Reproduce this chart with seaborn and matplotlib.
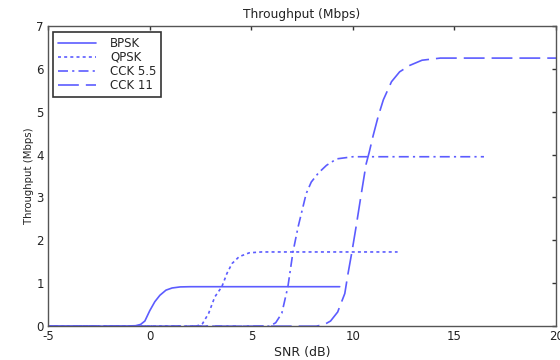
import numpy as np
import pandas as pd
import matplotlib
matplotlib.use("Agg")
import matplotlib.pyplot as plt
import seaborn as sns

# values
bpsk_snr = [-5, -1.5, -0.7, -0.45, -0.24, 0.0, 0.25, 0.5, 0.8, 1.1, 1.5, 2.0, 9.35]
bpsk_tp = [0, 0, 0.01, 0.04, 0.12, 0.36, 0.57, 0.72, 0.84, 0.89, 0.915, 0.92, 0.92]

qpsk_snr = [-5, 2.3, 2.6, 2.9, 3.2, 3.55, 3.8, 4.05, 4.4, 4.9, 5.5, 12.2]
qpsk_tp = [0, 0, 0.06, 0.3, 0.68, 0.92, 1.23, 1.46, 1.62, 1.71, 1.73, 1.73]

cck55_snr = [-5, 5.9, 6.2, 6.5, 6.8, 7.05, 7.3, 7.5, 7.7, 7.95, 8.3, 8.7, 9.2, 10.0, 16.45]
cck55_tp = [0, 0, 0.08, 0.3, 0.92, 1.73, 2.31, 2.7, 3.09, 3.36, 3.57, 3.75, 3.9, 3.95, 3.95]

cck11_snr = [-5, 8.2, 8.6, 8.9, 9.25, 9.6, 9.75, 9.95, 10.15, 10.4, 10.65, 10.8,
             11.0, 11.25, 11.5, 11.9, 12.3, 12.8, 13.4, 14.3, 20]
cck11_tp = [0, 0, 0.04, 0.12, 0.33, 0.76, 1.2, 1.73, 2.3, 3.05, 3.78, 4.05,
            4.45, 4.9, 5.28, 5.7, 5.93, 6.08, 6.2, 6.25, 6.25]

schemes = ["BPSK", "QPSK", "CCK 5.5", "CCK 11"]

df = pd.concat([
    pd.DataFrame({"snr": bpsk_snr, "tp": bpsk_tp, "scheme": "BPSK"}),
    pd.DataFrame({"snr": qpsk_snr, "tp": qpsk_tp, "scheme": "QPSK"}),
    pd.DataFrame({"snr": cck55_snr, "tp": cck55_tp, "scheme": "CCK 5.5"}),
    pd.DataFrame({"snr": cck11_snr, "tp": cck11_tp, "scheme": "CCK 11"}),
], ignore_index=True)

sns.set_style("white")
plt.rcParams['font.family'] = ['DejaVu Sans']
plt.rcParams['axes.unicode_minus'] = False

fig = plt.figure(figsize=(5.6, 3.6), dpi=100)
ax = fig.add_axes([0.086, 0.094, 0.907, 0.834])

blue = '#5c5cff'
dashes = {"BPSK": "", "QPSK": (1.8, 1.9), "CCK 5.5": (6, 2.5, 1.3, 2.5), "CCK 11": (12.5, 4.2)}
sns.lineplot(data=df, x="snr", y="tp", style="scheme", style_order=schemes,
             dashes=dashes, color=blue, linewidth=1.2, estimator=None, ax=ax)

ax.set_xlim(-5, 20)
ax.set_ylim(0, 7)
ax.set_xticks([-5, 0, 5, 10, 15, 20])
ax.set_yticks(range(0, 8))
ax.tick_params(direction='in', length=3, width=1, colors='#333333',
               labelsize=8.5, top=True, right=True, pad=3)
ax.tick_params(axis='x', labelcolor='#222222')
ax.tick_params(axis='y', labelcolor='#222222')
for s in ax.spines.values():
    s.set_color('#555555')
    s.set_linewidth(1)

ax.set_title("Throughput (Mbps)", fontsize=8.8, color='#222222', pad=6)
ax.set_xlabel("SNR (dB)", fontsize=9, color='#222222', labelpad=2)
ax.set_ylabel("Throughput (Mbps)", fontsize=7.3, color='#222222', labelpad=2)

h, l = ax.get_legend_handles_labels()
leg = ax.legend(h, l, loc='upper left', bbox_to_anchor=(0.01, 0.98),
                fontsize=8.5, frameon=True, fancybox=False, handlelength=3.2,
                labelspacing=0.1, borderpad=0.4, handletextpad=1.2,
                borderaxespad=0)
leg.get_frame().set_edgecolor('black')
leg.get_frame().set_linewidth(1.2)

fig.savefig("out.png", dpi=100)
